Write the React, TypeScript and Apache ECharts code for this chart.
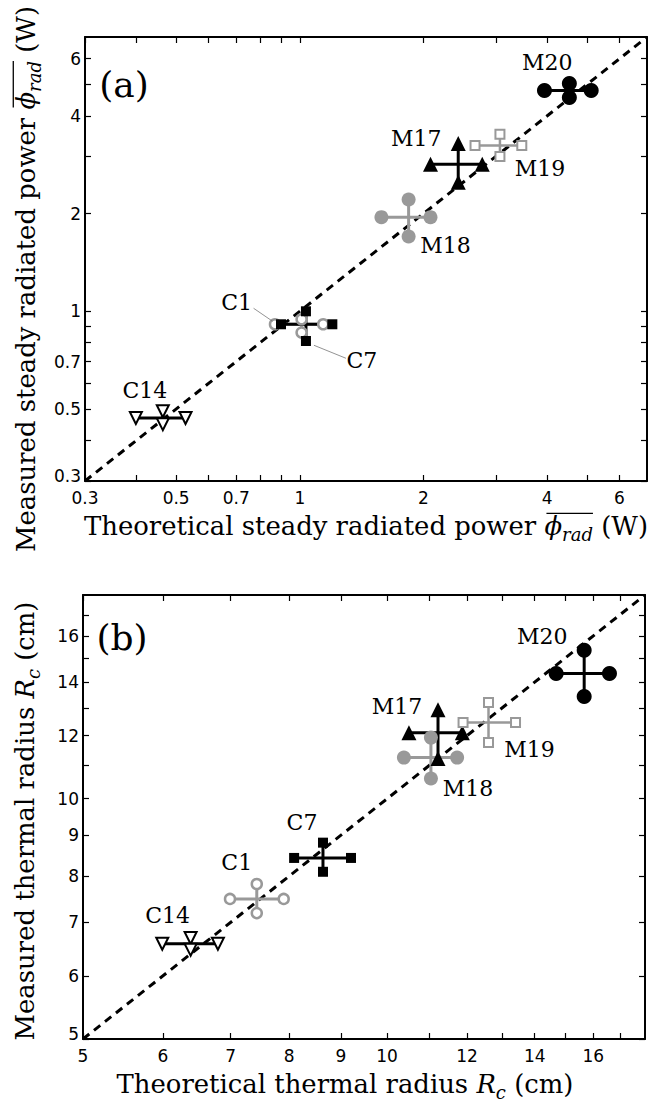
import React, { useEffect, useRef } from "react";
import * as echarts from "echarts";

// ---------- data ----------
const NAMES = ["C14", "C1", "C7", "M17", "M18", "M19", "M20"];

// panel (a): steady radiated power (W)
const A_X = [0.464, 1.01, 1.035, 2.43, 1.84, 3.07, 4.53];
const A_X_LO = [0.399, 0.87, 0.9, 2.08, 1.58, 2.67, 3.94];
const A_X_HI = [0.527, 1.14, 1.2, 2.78, 2.08, 3.47, 5.12];
const A_Y = [0.469, 0.912, 0.912, 2.84, 1.95, 3.24, 4.79];
const A_Y_LO = [0.449, 0.86, 0.81, 2.5, 1.7, 3.0, 4.56];
const A_Y_HI = [0.492, 0.945, 1.0, 3.29, 2.21, 3.51, 5.03];

// panel (b): thermal radius (cm)
const B_X = [6.39, 7.43, 8.64, 11.23, 11.05, 12.6, 15.67];
const B_X_LO = [5.99, 6.99, 8.09, 10.51, 10.39, 11.89, 14.7];
const B_X_HI = [6.8, 7.9, 9.21, 11.87, 11.73, 13.4, 16.6];
const B_Y = [6.58, 7.49, 8.43, 12.1, 11.26, 12.46, 14.35];
const B_Y_LO = [6.47, 7.19, 8.1, 11.23, 10.6, 11.76, 13.43];
const B_Y_HI = [6.69, 7.82, 8.81, 12.93, 11.93, 13.2, 15.35];

const A_RANGE = [0.3, 7];
const B_RANGE = [5, 18];
const A_TICKS = [0.3, 0.4, 0.5, 0.6, 0.7, 0.8, 0.9, 1, 2, 3, 4, 5, 6];
const A_TICK_LABELS = ["0.3", "0.5", "0.7", "1", "2", "4", "6"];
const B_TICKS = [5, 6, 7, 8, 9, 10, 11, 12, 13, 14, 15, 16, 17];
const B_TICK_LABELS = ["5", "6", "7", "8", "9", "10", "12", "14", "16"];

// ---------- styles ----------
const SERIF = '"DejaVu Serif", serif';
const GRAY = "#999999";
const STYLE: any = {
  C14: { symbol: "triangle", rotate: 180, size: 12, fill: "#fff", stroke: "#000", bw: 2, line: "#000", lw: 3 },
  C1: { symbol: "circle", rotate: 0, size: 10, fill: "#fff", stroke: GRAY, bw: 2.5, line: GRAY, lw: 3 },
  C7: { symbol: "rect", rotate: 0, size: 10, fill: "#000", stroke: "#000", bw: 0, line: "#000", lw: 3 },
  M17: { symbol: "triangle", rotate: 0, size: 15, fill: "#000", stroke: "#000", bw: 0, line: "#000", lw: 3 },
  M18: { symbol: "circle", rotate: 0, size: 14, fill: GRAY, stroke: GRAY, bw: 0, line: GRAY, lw: 3 },
  M19: { symbol: "rect", rotate: 0, size: 9, fill: "#fff", stroke: GRAY, bw: 2, line: GRAY, lw: 2.5 },
  M20: { symbol: "circle", rotate: 0, size: 15, fill: "#000", stroke: "#000", bw: 0, line: "#000", lw: 3 },
};
const A_LABEL_OFF: any = { C14: [-18, -28], C1: [-65, -22], C7: [56, 36], M17: [-42, -26], M18: [37, 28], M19: [40, 23], M20: [-22, -28] };
const B_LABEL_OFF: any = { C14: [-23, -28], C1: [-20, -36], C7: [-21, -35], M17: [-41, -26], M18: [37, 31], M19: [41, 27], M20: [-42, -37] };
const A_LEADERS: any = { C1: [[-48, -16], [-29, -3]], C7: [[8, 21], [40, 34]] };

const GRIDS = [
  { left: 85, top: 37, width: 562, height: 444 },
  { left: 83, top: 595, width: 562, height: 444 },
];

let measureCtx: any = null;
function tw(text: string, font: string) {
  if (!measureCtx) measureCtx = document.createElement("canvas").getContext("2d");
  measureCtx.font = font;
  return measureCtx.measureText(text).width;
}

type Piece = { t: string; it?: boolean; sub?: boolean; bar?: boolean; sp?: boolean };
function buildTitle(pieces: Piece[], S: number) {
  const s = Math.round(S * 0.7);
  const spaceW = tw(" ", `${S}px ${SERIF}`);
  let u = 0;
  const items: any[] = [];
  let b0: number | null = null;
  let b1 = 0;
  pieces.forEach((pc) => {
    if (pc.sp) u += spaceW;
    const size = pc.sub ? s : S;
    const font = `${pc.it ? "italic " : ""}${size}px ${SERIF}`;
    const w = tw(pc.t, font);
    const base = pc.sub ? 0.22 * S : 0;
    items.push({
      type: "text",
      x: u,
      y: base - 0.3 * size,
      style: { text: pc.t, font, fill: "#000", textAlign: "left", textVerticalAlign: "middle", verticalAlign: "middle" },
    });
    if (pc.bar) {
      if (b0 === null) b0 = u;
      b1 = u + w;
    }
    u += w;
  });
  const total = u;
  items.forEach((it) => (it.x -= total / 2));
  if (b0 !== null) {
    items.push({
      type: "line",
      shape: { x1: b0 - total / 2 + 2, y1: -0.8 * S, x2: b1 - total / 2, y2: -0.8 * S },
      style: { stroke: "#000", lineWidth: 1.3 },
    });
  }
  return items;
}

export default function App() {
  const ref = useRef<HTMLDivElement>(null);
  useEffect(() => {
    const el = ref.current!;
    const chart = echarts.init(el, null, { renderer: "svg" });
    const L = Math.log10;
    const panels = [
      { g: 0, X: A_X, XL: A_X_LO, XH: A_X_HI, Y: A_Y, YL: A_Y_LO, YH: A_Y_HI, range: A_RANGE, ticks: A_TICKS, labels: A_TICK_LABELS, off: A_LABEL_OFF },
      { g: 1, X: B_X, XL: B_X_LO, XH: B_X_HI, Y: B_Y, YL: B_Y_LO, YH: B_Y_HI, range: B_RANGE, ticks: B_TICKS, labels: B_TICK_LABELS, off: B_LABEL_OFF },
    ];
    const xAxis: any[] = [];
    const yAxis: any[] = [];
    const series: any[] = [];
    const diagIdx: number[] = [];
    panels.forEach((p) => {
      const min = L(p.range[0]);
      const max = L(p.range[1]);
      const tickVals = p.ticks.map(L);
      const base = (pos: string) => ({
        type: "value",
        gridIndex: p.g,
        min,
        max,
        position: pos,
        axisLine: { show: true, onZero: false, lineStyle: { color: "#000", width: 2 } },
        axisTick: { show: true, inside: true, length: 6, customValues: tickVals, lineStyle: { color: "#000", width: 1.2 } },
        axisLabel: { show: false },
        splitLine: { show: false },
      });
      xAxis.push(base("bottom"), base("top"));
      yAxis.push(base("left"), base("right"));
      const xi = 2 * p.g;
      const yi = 2 * p.g;
      diagIdx.push(series.length);
      series.push({
        type: "line",
        xAxisIndex: xi,
        yAxisIndex: yi,
        data: [[min, min], [max, max]],
        symbol: "none",
        lineStyle: { color: "#000", width: 3, type: [8, 6] },
        z: 1,
        silent: true,
      });
      NAMES.forEach((n, i) => {
        const st = STYLE[n];
        series.push({
          type: "custom",
          name: n,
          xAxisIndex: xi,
          yAxisIndex: yi,
          z: 2,
          data: [[L(p.X[i]), L(p.XL[i]), L(p.XH[i]), L(p.Y[i]), L(p.YL[i]), L(p.YH[i])]],
          renderItem: (_params: any, api: any) => {
            const l = api.coord([api.value(1), api.value(3)]);
            const r = api.coord([api.value(2), api.value(3)]);
            const t = api.coord([api.value(0), api.value(5)]);
            const b = api.coord([api.value(0), api.value(4)]);
            return {
              type: "group",
              children: [
                { type: "line", shape: { x1: l[0], y1: l[1], x2: r[0], y2: r[1] }, style: { stroke: st.line, lineWidth: st.lw } },
                { type: "line", shape: { x1: t[0], y1: t[1], x2: b[0], y2: b[1] }, style: { stroke: st.line, lineWidth: st.lw } },
              ],
            };
          },
        });
        series.push({
          type: "scatter",
          name: n,
          xAxisIndex: xi,
          yAxisIndex: yi,
          z: 2,
          data: [
            [L(p.XL[i]), L(p.Y[i])],
            [L(p.XH[i]), L(p.Y[i])],
            [L(p.X[i]), L(p.YH[i])],
            [L(p.X[i]), L(p.YL[i])],
          ],
          symbol: st.symbol,
          symbolSize: st.size,
          symbolRotate: st.rotate,
          itemStyle: { color: st.fill, borderColor: st.stroke, borderWidth: st.bw, opacity: 1 },
        });
      });
    });

    chart.setOption({
      animation: false,
      backgroundColor: "#fff",
      grid: GRIDS.map((g) => ({ ...g, containLabel: false })),
      xAxis,
      yAxis,
      series,
    });

    // annotations
    const graphic: any[] = [];
    const tickStyle = { fontSize: 17, fontFamily: "DejaVu Sans", fill: "#000" };
    panels.forEach((p, pi) => {
      const grid = GRIDS[pi];
      const axisY = grid.top + grid.height;
      const axisX = grid.left;
      // tick labels placed through the axes' own scale
      p.labels.forEach((lab, li) => {
        const v = L(parseFloat(lab));
        const px = chart.convertToPixel({ xAxisIndex: 2 * p.g }, v) as any;
        const py = chart.convertToPixel({ yAxisIndex: 2 * p.g }, v) as any;
        graphic.push({
          type: "text",
          x: px,
          y: axisY + 8,
          style: { ...tickStyle, text: lab, textAlign: "center", textVerticalAlign: "top", verticalAlign: "top" },
        });
        graphic.push({
          type: "text",
          x: axisX - 4,
          y: li === 0 ? py - 5 : py,
          style: { ...tickStyle, text: lab, textAlign: "right", textVerticalAlign: "middle", verticalAlign: "middle" },
        });
      });
      NAMES.forEach((n, i) => {
        const c = chart.convertToPixel({ seriesIndex: diagIdx[pi] }, [L(p.X[i]), L(p.Y[i])]) as any;
        const o = p.off[n];
        graphic.push({
          type: "text",
          x: c[0] + o[0],
          y: c[1] + o[1],
          z: 10,
          style: { text: n, font: `22px ${SERIF}`, fill: "#000", textAlign: "center", textVerticalAlign: "middle", verticalAlign: "middle" },
        });
        if (pi === 0 && A_LEADERS[n]) {
          const [a, b] = A_LEADERS[n];
          graphic.push({
            type: "line",
            z: 10,
            shape: { x1: c[0] + a[0], y1: c[1] + a[1], x2: c[0] + b[0], y2: c[1] + b[1] },
            style: { stroke: "#777", lineWidth: 0.8 },
          });
        }
      });
    });
    graphic.push({ type: "text", x: 124, y: 84, style: { text: "(a)", font: `36px ${SERIF}`, fill: "#000", textAlign: "center", textVerticalAlign: "middle", verticalAlign: "middle" } });
    graphic.push({ type: "text", x: 122, y: 637, style: { text: "(b)", font: `36px ${SERIF}`, fill: "#000", textAlign: "center", textVerticalAlign: "middle", verticalAlign: "middle" } });

    const S = (1.04 * 22 * 435) / tw("Theoretical steady radiated power", `22px ${SERIF}`);
    const phiPieces = (lead: string): Piece[] => [
      { t: lead },
      { t: "ϕ", it: true, bar: true, sp: true },
      { t: "rad", it: true, sub: true, bar: true },
      { t: "(W)", sp: true },
    ];
    const rPieces = (lead: string): Piece[] => [
      { t: lead },
      { t: "R", it: true, sp: true },
      { t: "c", it: true, sub: true },
      { t: "(cm)", sp: true },
    ];
    graphic.push({ type: "group", x: 366, y: 534, children: buildTitle(phiPieces("Theoretical steady radiated power"), S) });
    graphic.push({ type: "group", x: 34, y: 279, rotation: Math.PI / 2, children: buildTitle(phiPieces("Measured steady radiated power"), S) });
    graphic.push({ type: "group", x: 345, y: 1092, children: buildTitle(rPieces("Theoretical thermal radius"), S) });
    graphic.push({ type: "group", x: 33, y: 821, rotation: Math.PI / 2, children: buildTitle(rPieces("Measured thermal radius"), S) });

    chart.setOption({ graphic });

    return () => chart.dispose();
  }, []);
  return <div ref={ref} style={{ position: "absolute", left: 0, top: 0, width: 650, height: 1102, background: "#fff" }} />;
}
